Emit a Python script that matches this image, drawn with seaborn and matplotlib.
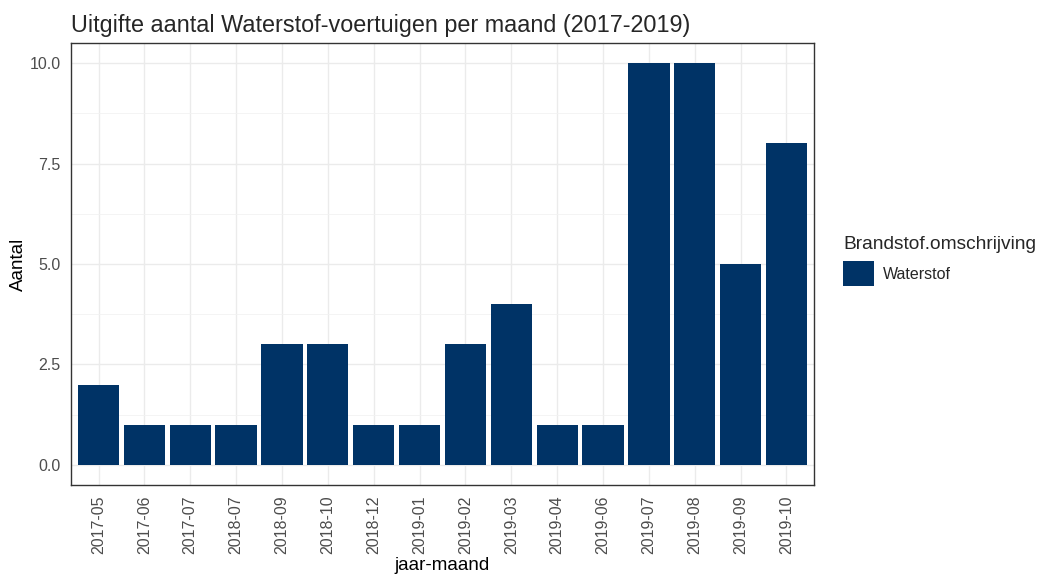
import numpy as np
import pandas as pd
import seaborn as sns
import matplotlib.pyplot as plt
from matplotlib.ticker import MultipleLocator

maanden = ['2017-05', '2017-06', '2017-07', '2018-07', '2018-09', '2018-10', '2018-12', '2019-01',
           '2019-02', '2019-03', '2019-04', '2019-06', '2019-07', '2019-08', '2019-09', '2019-10']
aantal = [2, 1, 1, 1, 3, 3, 1, 1, 3, 4, 1, 1, 10, 10, 5, 8]
brandstof = ['Waterstof'] * len(maanden)

df = pd.DataFrame({'jaar-maand': maanden, 'Aantal': aantal, 'Brandstof.omschrijving': brandstof})

sns.set_style('white')
plt.rcParams['font.family'] = ['Liberation Sans', 'DejaVu Sans']

fig = plt.figure(figsize=(10.38, 5.79), dpi=100)
ax = fig.add_axes([0.0684, 0.1623, 0.7158, 0.7634])

sns.barplot(data=df, x='jaar-maand', y='Aantal', hue='Brandstof.omschrijving',
            palette=['#003366'], width=0.9, ax=ax, zorder=3, saturation=1, linewidth=0)

ax.set_xlim(-0.6, len(maanden) - 0.4)
ax.set_ylim(-0.5, 10.5)
ax.yaxis.set_minor_locator(MultipleLocator(1.25))
ax.set_yticks([0, 2.5, 5, 7.5, 10])
ax.set_yticklabels(['0.0', '2.5', '5.0', '7.5', '10.0'])
ax.grid(True, which='major', color='#EBEBEB', lw=1.0, zorder=0)
ax.grid(True, which='minor', axis='y', color='#F2F2F2', lw=0.6, zorder=0)
ax.set_axisbelow(True)
for s in ax.spines.values():
    s.set_color('#333333')
    s.set_linewidth(1.0)

ax.tick_params(axis='both', which='major', length=4, color='#333333', labelcolor='#4D4D4D', labelsize=11.5)
ax.tick_params(axis='y', which='minor', length=0)
ax.tick_params(axis='x', labelrotation=90)

ax.set_xlabel('jaar-maand', fontsize=13.5, color='black', labelpad=2)
ax.set_ylabel('Aantal', fontsize=13.5, color='black', labelpad=2)
ax.set_title('Uitgifte aantal Waterstof-voertuigen per maand (2017-2019)', fontsize=16.8, loc='left', x=0, pad=8)

leg = ax.legend(title='Brandstof.omschrijving', loc='upper left', bbox_to_anchor=(1.02, 0.595),
                frameon=False, fontsize=11.5, title_fontsize=13.8, handlelength=1.9, handleheight=2.0,
                handletextpad=0.6, alignment='left')

fig.savefig('out.png', dpi=100)
